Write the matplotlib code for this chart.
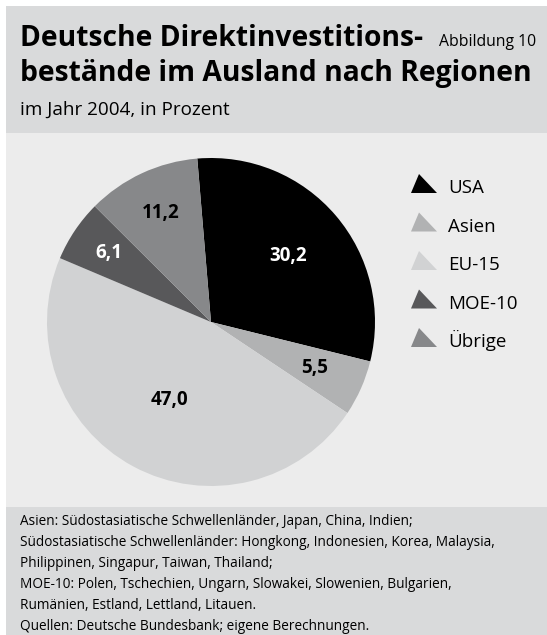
import numpy as np
import matplotlib.pyplot as plt
from matplotlib.patches import Rectangle, Polygon

# daten
regionen = ['USA', 'Asien', 'EU-15', 'MOE-10', 'Übrige']
anteile = [30.2, 5.5, 47.0, 6.1, 11.2]
farben = ['#000000', '#b1b2b3', '#d1d2d3', '#58585a', '#87888a']
label_farben = ['white', 'black', 'black', 'white', 'black']

titel = ['Deutsche Direktinvestitions-', 'bestände im Ausland nach Regionen']
untertitel = 'im Jahr 2004, in Prozent'
abbildung = 'Abbildung 10'
fussnote = ['Asien: Südostasiatische Schwellenländer, Japan, China, Indien;',
            'Südostasiatische Schwellenländer: Hongkong, Indonesien, Korea, Malaysia,',
            'Philippinen, Singapur, Taiwan, Thailand;',
            'MOE-10: Polen, Tschechien, Ungarn, Slowakei, Slowenien, Bulgarien,',
            'Rumänien, Estland, Lettland, Litauen.',
            'Quellen: Deutsche Bundesbank; eigene Berechnungen.']

W, H = 547, 635
plt.rcParams['font.family'] = ['Open Sans', 'DejaVu Sans']

fig = plt.figure(figsize=(W / 100, H / 100), dpi=100)
fig.patch.set_facecolor('white')

# umrechnung pixel -> figur-koordinaten
def fx(x):
    return x / W

def fy(y):
    return 1 - y / H

# hintergrundflaechen (hinter dem kreis)
for y0, y1, farbe in [(6, 133, '#d9dadb'), (133, 507, '#ececec'), (507, H, '#d9dadb')]:
    fig.patches.append(Rectangle((fx(6), fy(y1)), 1, (y1 - y0) / H, transform=fig.transFigure,
                                 facecolor=farbe, edgecolor='none', zorder=-5))

# titel
fig.text(fx(20), fy(46), titel[0], fontsize=20.3, fontweight='bold', va='baseline', ha='left')
fig.text(fx(20), fy(81), titel[1], fontsize=20.3, fontweight='bold', va='baseline', ha='left')
fig.text(fx(20), fy(115), untertitel, fontsize=13.6, va='baseline', ha='left')
fig.text(fx(536), fy(46), abbildung, fontsize=11.3, va='baseline', ha='right')

# kreisdiagramm
cx, cy, r = 211, 322, 164
ax = fig.add_axes([fx(cx - r), fy(cy + r), 2 * r / W, 2 * r / H])
wedges, texte, prozente = ax.pie(anteile, colors=farben, startangle=94.8, counterclock=False,
                                 radius=1, autopct=lambda p: '', pctdistance=0.68,
                                 wedgeprops=dict(linewidth=0))
ax.set_xlim(-1, 1)
ax.set_ylim(-1, 1)
ax.axis('off')
# abstand der zahlen vom mittelpunkt
label_abstand = [0.62, 0.69, 0.54, 0.75, 0.73]
for i, (w, t) in enumerate(zip(wedges, prozente)):
    mitte = np.deg2rad((w.theta1 + w.theta2) / 2)
    t.set_position((label_abstand[i] * np.cos(mitte), label_abstand[i] * np.sin(mitte)))
    t.set_text(f'{anteile[i]:.1f}'.replace('.', ','))
    t.set_color(label_farben[i])
    t.set_fontsize(13.5)
    t.set_fontweight('bold')

# legende
for i, name in enumerate(regionen):
    y = 193 + i * 38.5
    fig.patches.append(Polygon([(fx(411), fy(y)), (fx(419), fy(y - 19)), (fx(437), fy(y))],
                               closed=True, transform=fig.transFigure,
                               facecolor=farben[i], edgecolor='none'))
    fig.text(fx(448), fy(y), name, fontsize=13.5, va='baseline', ha='left')

# fussnote
for i, zeile in enumerate(fussnote):
    fig.text(fx(20), fy(525 + i * 21), zeile, fontsize=9.8, va='baseline', ha='left')

fig.savefig('out.png', dpi=100, facecolor=fig.get_facecolor())
